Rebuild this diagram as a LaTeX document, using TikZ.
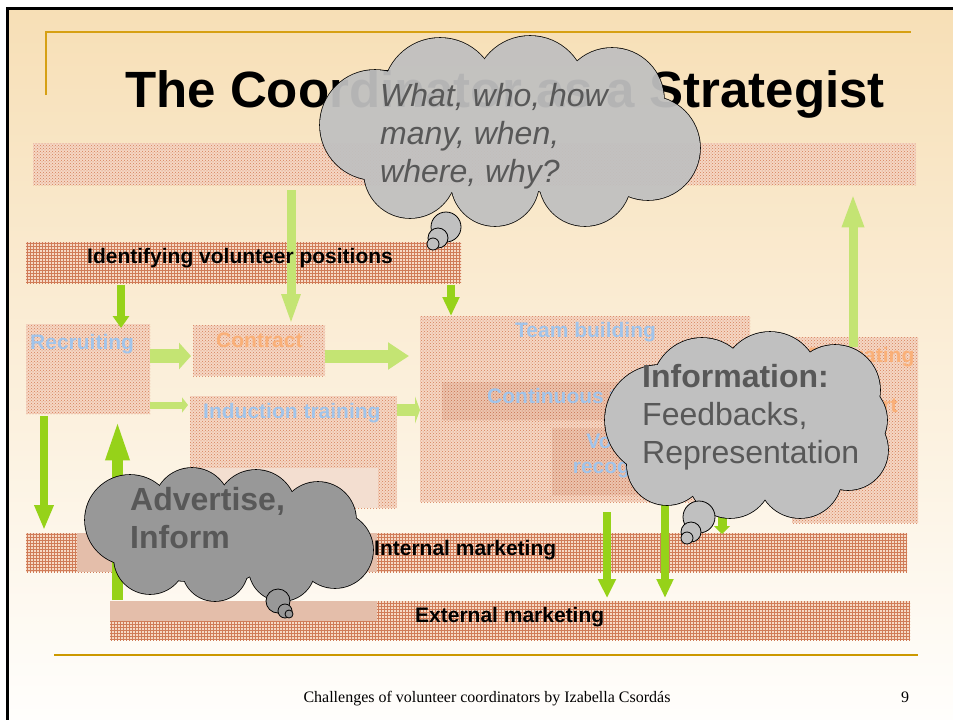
\documentclass[tikz,border=0pt]{standalone}
\usepackage{fontspec}
\setmainfont{Liberation Sans}
\newfontfamily\footfont{Liberation Serif}
\usetikzlibrary{patterns,arrows.meta,calc}
\definecolor{bgtop}{RGB}{247,223,182}
\definecolor{bgmid}{RGB}{252,240,222}
\definecolor{bgbot}{RGB}{255,254,252}
\definecolor{gold}{RGB}{214,160,20}
\definecolor{goldB}{RGB}{204,153,0}
\definecolor{dotbase}{RGB}{245,215,196}
\definecolor{dotcol}{RGB}{214,126,88}
\definecolor{dotbaseB}{RGB}{236,196,174}
\definecolor{dotcolB}{RGB}{200,112,78}
\definecolor{gridbase}{RGB}{246,218,198}
\definecolor{gridcol}{RGB}{208,124,88}
\definecolor{pinkA}{RGB}{228,190,170}
\definecolor{pinkB}{RGB}{243,222,208}
\definecolor{gA}{RGB}{150,210,25}
\definecolor{gB}{RGB}{196,228,115}
\definecolor{lblue}{RGB}{160,196,235}
\definecolor{lorange}{RGB}{250,176,120}
\definecolor{cgrey}{RGB}{88,88,88}
\definecolor{cloudA}{RGB}{192,192,192}
\definecolor{cloudB}{RGB}{152,152,152}
\tikzset{
  dotbox/.style={fill=dotbase, postaction={pattern=crosshatch dots, pattern color=dotcol}, inner sep=0pt, anchor=north west},
  dotboxB/.style={fill=dotbaseB, postaction={pattern=crosshatch dots, pattern color=dotcolB}, inner sep=0pt, anchor=north west},
  gridbox/.style={fill=gridbase, postaction={pattern=grid, pattern color=gridcol}, inner sep=0pt, anchor=north west},
  solidbox/.style={inner sep=0pt, anchor=north west},
  garr/.style={draw=gA},
  garrB/.style={draw=gB},
  lbl/.style={anchor=base west, inner sep=0pt, font=\fontsize{21}{25}\selectfont\bfseries},
  ctxt/.style={anchor=base west, inner sep=0pt, text=cgrey, font=\fontsize{32}{38}\selectfont},
  bubble/.style={draw=black, line width=0.8pt}
}
% cloud drawn as a union of circles: strokes first, fills on top
\newcommand{\mycloud}[2]{%
  \foreach \cx/\cy/\r in {#2} {\draw[black, line width=1.6pt] (\cx,\cy) circle[radius=\r pt];}
  \foreach \cx/\cy/\r in {#2} {\fill[#1] (\cx,\cy) circle[radius=\r pt];}
}
\begin{document}
\begin{tikzpicture}[x=1pt,y=-1pt]
\useasboundingbox (0,0) rectangle (953,720);
\fill[white] (0,0) rectangle (953,720);
\shade[top color=bgtop, middle color=bgmid, bottom color=bgbot] (8,8) rectangle (953,720);
\draw[black, line width=3pt] (7.5,720) -- (7.5,8) -- (953,8);

% title frame
\draw[gold, line width=2pt] (46,95) -- (46,32) -- (911,32);
\node[anchor=base, inner sep=0pt, font=\fontsize{51}{60}\selectfont\bfseries] (title) at (505,107) {The Coordinator as a Strategist};

% boxes
\node[dotbox, minimum width=883, minimum height=42] (topb) at (33,143) {};
\node[gridbox, minimum width=435, minimum height=41] (idv) at (26,242) {};
\node[dotbox, minimum width=124, minimum height=90] (rec) at (26,324) {};
\node[dotbox, minimum width=132, minimum height=51] (con) at (193,325) {};
\node[dotbox, minimum width=207, minimum height=112] (ind) at (190,396) {};
\node[solidbox, fill=pinkB, minimum width=188, minimum height=40] (indl) at (190,468) {};
\node[dotbox, minimum width=330, minimum height=186] (team) at (420,316) {};
\node[dotboxB, minimum width=260, minimum height=38] (cont) at (442,382) {};
\node[dotboxB, minimum width=150, minimum height=67] (vol) at (552,428) {};
\node[dotbox, minimum width=126, minimum height=186] (evl) at (792,337) {};
\node[gridbox, minimum width=881, minimum height=39] (intm) at (26,533) {};
\node[solidbox, fill=pinkA, minimum width=300, minimum height=39] (intl) at (77,533) {};
\node[gridbox, minimum width=800, minimum height=39] (extm) at (110,601) {};
\node[solidbox, fill=pinkA, minimum width=267, minimum height=20] (extl) at (110,601) {};

% coordinates for arrow positions
\coordinate (xa) at (291,190);
\coordinate (xb) at (121,0);
\coordinate (xc) at (451,0);
\coordinate (xd) at (853,0);
\coordinate (xe) at (44,0);
\coordinate (xf) at (117.5,600);
\coordinate (xg) at (607,512);
\coordinate (xh) at (665,0);
\coordinate (xi) at (722,498);
\coordinate (ya) at (0,356);
\coordinate (yb) at (0,405);
\coordinate (yc) at (0,410);

% arrows
\draw[garrB, line width=9pt, -{Triangle[width=17pt,length=31pt]}] (xa) -- (con.north -| xa);
\draw[garr, line width=8pt, -{Triangle[width=16pt,length=12pt]}] ([yshift=-2pt]idv.south -| xb) -- ([yshift=-4pt]rec.north -| xb);
\draw[garr, line width=8pt, -{Triangle[width=16pt,length=19pt]}] ([yshift=-2pt]idv.south -| xc) -- (team.north -| xc);
\draw[garrB, line width=14pt, -{Triangle[width=26pt,length=12pt]}] (rec.east |- ya) -- ([xshift=-2pt]con.west |- ya);
\draw[garrB, line width=13pt, -{Triangle[width=26pt,length=21pt]}] (con.east |- ya) -- ([xshift=-11pt]team.west |- ya);
\draw[garrB, line width=7pt, -{Triangle[width=15pt,length=6pt]}] (rec.east |- yb) -- ([xshift=-2pt]ind.west |- yb);
\draw[garrB, line width=12pt, -{Triangle[width=27pt,length=5pt]}] (ind.east |- yc) -- (team.west |- yc);
\draw[garrB, line width=9pt, -{Triangle[width=20pt,length=34pt]}] ([yshift=-10pt]evl.north -| xd) -- ([yshift=-8pt]topb.south -| xd);
\draw[garr, line width=8pt, -{Triangle[width=18pt,length=25pt]}] ([yshift=-2pt]rec.south -| xe) -- ([yshift=3pt]intm.north -| xe);
\draw[garr, line width=11pt, -{Triangle[width=21pt,length=42pt]}] (xf) -- ([yshift=-4pt]rec.south -| xf);
\draw[garr, line width=8pt, -{Triangle[width=17pt,length=19pt]}] (xg) -- ([yshift=3pt]extm.north -| xg);
\draw[garr, line width=8pt, -{Triangle[width=16pt,length=19pt]}] (team.south -| xh) -- ([yshift=3pt]extm.north -| xh);
\draw[garr, line width=9pt, -{Triangle[width=16pt,length=8pt]}] (xi) -- ([yshift=-1pt]intm.north -| xi);

% labels
\node[lbl] at (87,263) {Identifying volunteer positions};
\node[lbl, text=lblue] at (30,349) {Recruiting};
\node[lbl, text=lorange] at (216,347) {Contract};
\node[lbl, text=lblue] at (203,418) {Induction training};
\node[lbl, text=lblue] at (515,337) {Team building};
\node[lbl, text=lblue] at (487,403) {Continuous training};
\node[lbl, text=lblue, anchor=base] at (634,448) {Volunteer};
\node[lbl, text=lblue, anchor=base] at (630,473) {recognition};
\node[lbl, text=lorange] at (808,362) {Evaluating};
\node[lbl, text=lorange] at (817,412) {Support};
\node[lbl] at (374,555) {Internal marketing};
\node[lbl] at (415,622) {External marketing};

% cloud 1
\begin{scope}[transparency group, opacity=0.94]
\mycloud{cloudA}{375/125/55, 440/95/57, 530/92/56, 612/100/52, 648/148/52, 585/180/46, 495/182/44, 410/172/46, 470/135/60, 560/135/60, 509/150/50}
\end{scope}
\node[ctxt, font=\fontsize{32}{38}\selectfont\itshape] at (380,106) {What, who, how};
\node[ctxt, font=\fontsize{32}{38}\selectfont\itshape] at (380,144) {many, when,};
\node[ctxt, font=\fontsize{32}{38}\selectfont\itshape] at (380,182) {where, why?};
\draw[bubble, fill=cloudA] (446,227) circle[radius=15pt];
\draw[bubble, fill=cloudA] (438,238) circle[radius=10pt];
\draw[bubble, fill=cloudA] (433,244) circle[radius=6pt];

% cloud 2
\mycloud{cloudA}{660/420/55, 702/388/50, 770/381/49, 835/390/45, 848/420/39, 848/450/40, 800/476/42, 730/476/42, 667/465/40, 750/428/60, 795/430/48}
\node[ctxt, font=\fontsize{32}{38}\selectfont\bfseries] at (642,387) {Information:};
\node[ctxt] at (642,425) {Feedbacks,};
\node[ctxt] at (642,463) {Representation};
\draw[bubble, fill=cloudA] (699,517) circle[radius=16pt];
\draw[bubble, fill=cloudA] (691,532) circle[radius=10pt];
\draw[bubble, fill=cloudA] (687,538) circle[radius=6pt];

% cloud 3
\mycloud{cloudB}{130/520/45, 192/506/38, 256/510/40, 318/520/38, 335/550/38, 282/568/33, 215/568/33, 150/558/36, 228/537/45, 185/545/36, 275/535/36}
\node[ctxt, font=\fontsize{32}{38}\selectfont\bfseries] at (130,510) {Advertise,};
\node[ctxt, font=\fontsize{32}{38}\selectfont\bfseries] at (130,548) {Inform};
\draw[bubble, fill=cloudB] (278,601) circle[radius=12pt];
\draw[bubble, fill=cloudB] (285,611) circle[radius=7pt];
\draw[bubble, fill=cloudB] (289,614) circle[radius=4pt];

% footer
\draw[goldB, line width=2.5pt] (54,655) -- (918,655);
\node[anchor=base, inner sep=0pt, font=\footfont\fontsize{16}{19}\selectfont] (foot) at (487,702) {Challenges of volunteer coordinators by Izabella Csordás};
\node[anchor=base, inner sep=0pt, font=\footfont\fontsize{16}{19}\selectfont] (pg) at (905,702) {9};
\end{tikzpicture}
\end{document}
